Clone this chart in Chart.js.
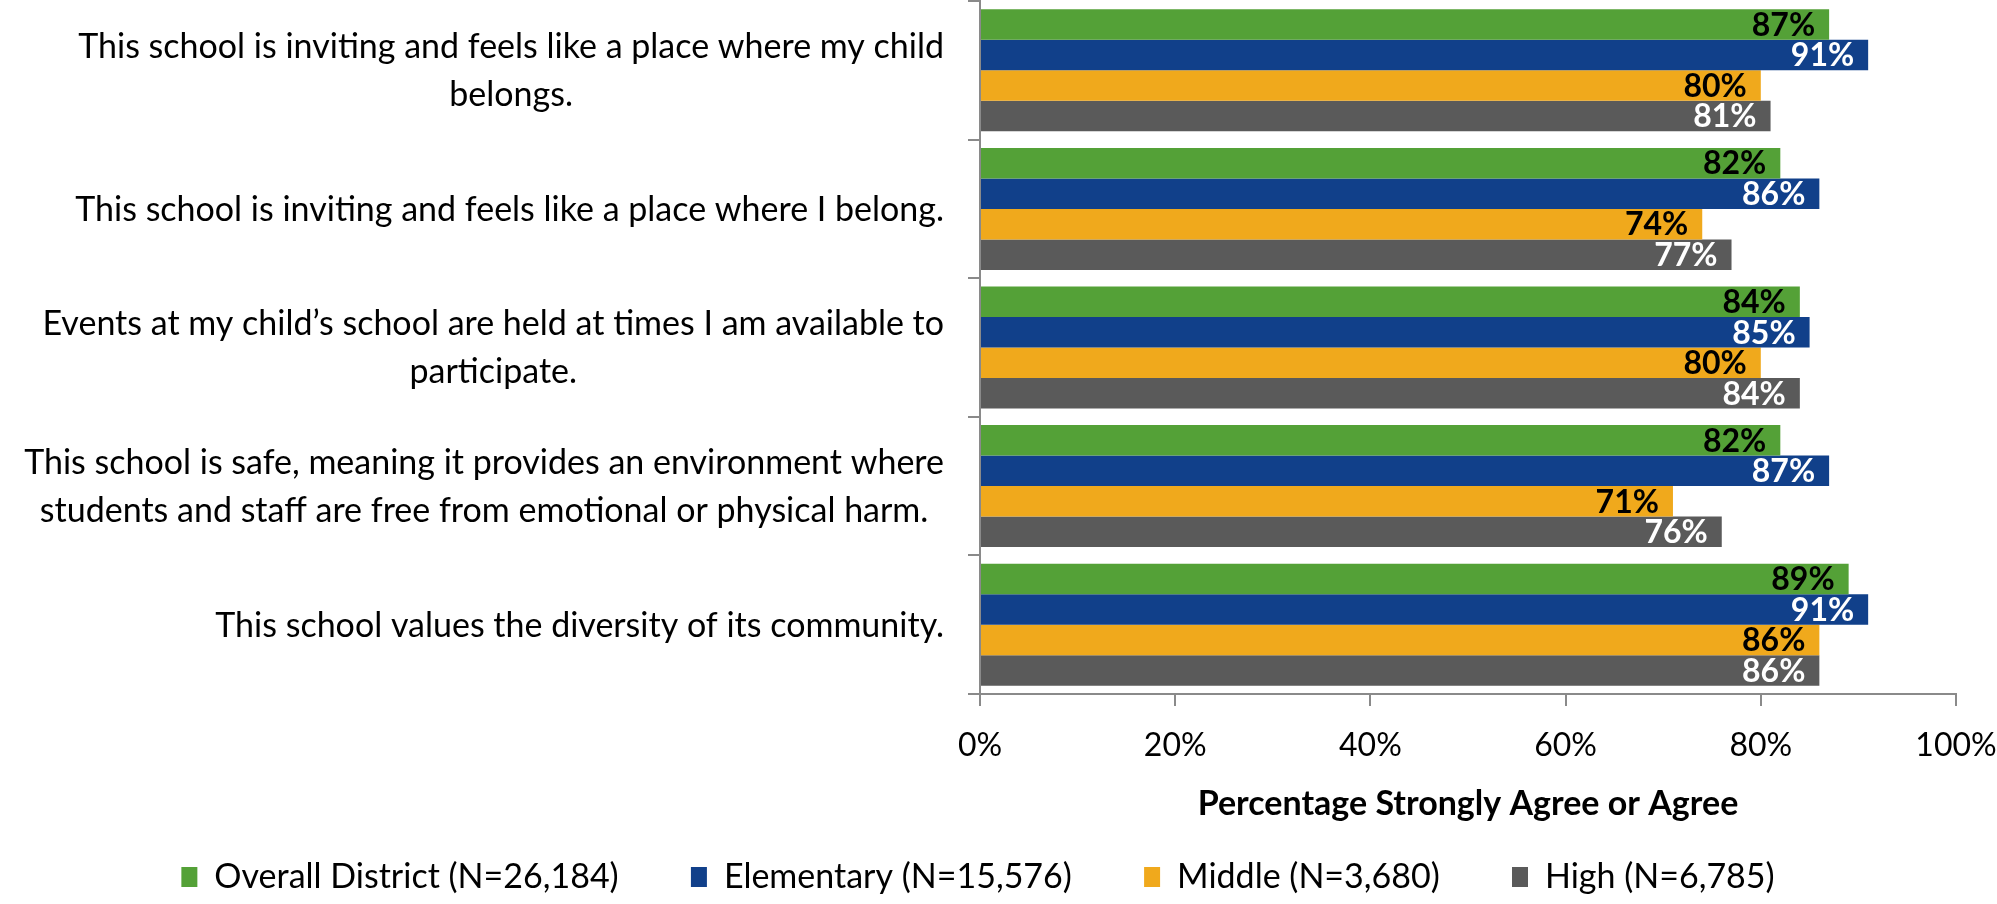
<!DOCTYPE html>
<html>
<head>
<meta charset="utf-8">
<script src="https://cdn.jsdelivr.net/npm/chart.js@4.4.1/dist/chart.umd.min.js"></script>
<style>
  html, body { margin: 0; padding: 0; background: #fff; }
  .chart-container { width: 1997px; height: 904px; }
</style>
</head>
<body>
<div class="chart-container"><canvas id="chart" width="1997" height="904"></canvas></div>
<script>
// categorias (linhas quebradas como no original)
const CATEGORIES = [
  ["This school is inviting and feels like a place where my child", "belongs."],
  "This school is inviting and feels like a place where I belong.",
  ["Events at my child’s school are held at times I am available to", "participate."],
  ["This school is safe, meaning it provides an environment where", "students and staff are free from emotional or physical harm."],
  "This school values the diversity of its community."
];
const SERIES = ["Overall District (N=26,184)", "Elementary (N=15,576)", "Middle (N=3,680)", "High (N=6,785)"];
const OVERALL = [87, 82, 84, 82, 89];
const ELEMENTARY = [91, 86, 85, 87, 91];
const MIDDLE = [80, 74, 80, 71, 86];
const HIGH = [81, 77, 84, 76, 86];
const X_TICKS = [0, 20, 40, 60, 80, 100];
const X_TITLE = "Percentage Strongly Agree or Agree";

const COLORS = ["#54a137", "#11408a", "#f0a91c", "#5a5a5a"];
const LABEL_COLORS = ["#000", "#fff", "#000", "#fff"];
const AXIS = "#8a8a8a";
const FONT = "Lato";

// rótulos de valor dentro da ponta da barra
const barLabels = {
  id: "barLabels",
  afterDatasetsDraw(chart) {
    const { ctx } = chart;
    ctx.save();
    ctx.font = `bold 32px ${FONT}`;
    ctx.textAlign = "right";
    ctx.textBaseline = "middle";
    chart.data.datasets.forEach((ds, i) => {
      ctx.fillStyle = LABEL_COLORS[i];
      chart.getDatasetMeta(i).data.forEach((bar, j) => {
        ctx.fillText(ds.data[j] + "%", bar.x - 14, bar.y + 1);
      });
    });
    ctx.restore();
  }
};

// rótulos das categorias: bloco alinhado à direita, linhas centralizadas
const categoryLabels = {
  id: "categoryLabels",
  afterDraw(chart) {
    const { ctx } = chart;
    const yScale = chart.scales.y;
    const right = yScale.right - 36;
    const lineH = 48;
    ctx.save();
    ctx.font = `34px ${FONT}`;
    ctx.fillStyle = "#000";
    ctx.textAlign = "center";
    ctx.textBaseline = "middle";
    CATEGORIES.forEach((cat, i) => {
      const lines = Array.isArray(cat) ? cat : [cat];
      const maxW = Math.max(...lines.map(l => ctx.measureText(l).width));
      const cx = right - maxW / 2;
      const y0 = yScale.getPixelForValue(i) + 1 - (lines.length - 1) * lineH / 2;
      lines.forEach((l, k) => ctx.fillText(l, cx, y0 + k * lineH));
    });
    ctx.restore();
  }
};

const values = [OVERALL, ELEMENTARY, MIDDLE, HIGH];

new Chart(document.getElementById("chart"), {
  type: "bar",
  data: {
    labels: CATEGORIES,
    datasets: SERIES.map((name, i) => ({
      label: name,
      data: values[i],
      backgroundColor: COLORS[i],
      borderWidth: 0,
      categoryPercentage: 0.88,
      barPercentage: 1
    }))
  },
  options: {
    indexAxis: "y",
    responsive: false,
    animation: false,
    layout: { padding: { top: 1, right: 41, left: 0, bottom: 0 } },
    plugins: {
      tooltip: { enabled: false },
      legend: {
        position: "bottom",
        labels: {
          font: { family: FONT, size: 34 },
          color: "#000",
          boxWidth: 16,
          boxHeight: 20,
          padding: 20,
          // espaço extra entre os itens da legenda
          generateLabels: chart =>
            Chart.defaults.plugins.legend.labels.generateLabels(chart)
              .map((l, i, all) => ({ ...l, text: i < all.length - 1 ? l.text + "      " : l.text }))
        }
      }
    },
    scales: {
      y: {
        grid: { drawOnChartArea: false, drawTicks: true, tickLength: 12, color: AXIS, lineWidth: 2, offset: true },
        border: { color: AXIS, width: 2 },
        ticks: { display: false },
        afterFit: s => { s.width = 980; }
      },
      x: {
        min: 0,
        max: 100,
        afterBuildTicks: s => { s.ticks = X_TICKS.map(v => ({ value: v })); },
        ticks: { callback: v => v + "%", font: { family: FONT, size: 32 }, color: "#000", padding: 20 },
        grid: { drawOnChartArea: false, drawTicks: true, tickLength: 12, color: AXIS, lineWidth: 2 },
        border: { color: AXIS, width: 2 },
        title: { display: true, text: X_TITLE, font: { family: FONT, size: 34, weight: "bold" }, color: "#000", padding: { top: 0, bottom: 16 } },
        afterFit: s => { s.height = 146; s.paddingLeft = 0; s.paddingRight = 0; }
      }
    }
  },
  plugins: [barLabels, categoryLabels]
});
</script>
</body>
</html>
